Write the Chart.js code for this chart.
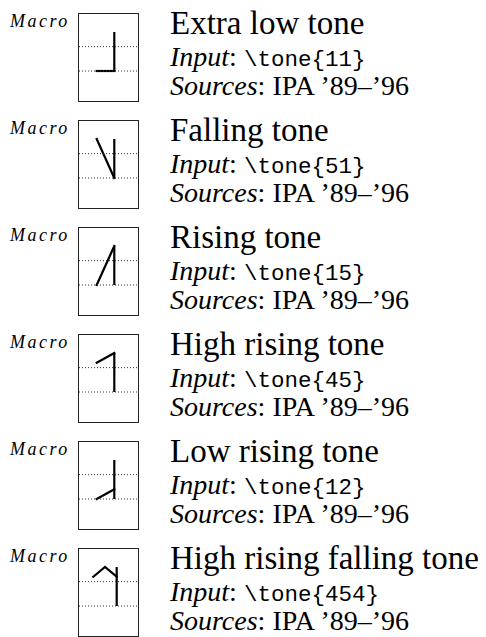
<!DOCTYPE html>
<html>
<head>
<meta charset="utf-8">
<title>Tone letters</title>
<script src="https://cdn.jsdelivr.net/npm/chart.js@4.4.0/dist/chart.umd.min.js"></script>
<style>
    html, body { margin: 0; padding: 0; background: #fff; }
    body { width: 486px; height: 637px; overflow: hidden; position: relative; font-family: 'Liberation Serif', serif; color: #000; }
    i { font-style: italic; }
    .row { position: absolute; left: 0; width: 486px; height: 108px; }
    .macro { position: absolute; left: 10px; top: 12px; font-size: 18px; line-height: 1; font-style: italic; letter-spacing: 2.5px; }
    .box { position: absolute; left: 78px; top: 13px; width: 61px; height: 89px; box-sizing: border-box; border: 1px solid #222; }
    .box canvas { display: block; }
    .name { position: absolute; left: 170px; top: 7.4px; font-size: 33px; line-height: 1; white-space: nowrap; }
    .line { position: absolute; left: 170px; font-size: 28px; line-height: 22px; white-space: nowrap; }
    .line code { font-family: 'Liberation Mono', monospace; font-size: 22.5px; }
</style>
</head>
<body>
<script>
const toneNames = ['Extra low tone', 'Falling tone', 'Rising tone', 'High rising tone', 'Low rising tone', 'High rising falling tone'];
const toneInputs = ['11', '51', '15', '45', '12', '454'];
const toneSources = ['IPA ’89–’96', 'IPA ’89–’96', 'IPA ’89–’96', 'IPA ’89–’96', 'IPA ’89–’96', 'IPA ’89–’96'];
const guideLevels = [1, 3.5];
const staffLevels = [1, 5];

document.addEventListener('DOMContentLoaded', () => {
    const ROW_STEP = 107;

    toneNames.forEach((name, i) => {
        const row = document.createElement('div');
        row.className = 'row';
        row.style.top = Math.round(i * ROW_STEP) + 'px';
        row.innerHTML = `
            <div class="macro">Macro</div>
            <div class="box"><canvas width="59" height="87"></canvas></div>
            <div class="name">${name}</div>
            <div class="line" style="top:45.5px"><i>Input</i>: <code>\\tone{${toneInputs[i]}}</code></div>
            <div class="line" style="top:75px"><i>Sources</i>: ${toneSources[i]}</div>
        `;
        document.body.appendChild(row);

        const levels = toneInputs[i].split('').map(Number);
        drawTone(row.querySelector('canvas'), levels);
    });

    function drawTone(canvas, levels) {
        const n = levels.length;
        // pixel spacing of the contour inside the letter box
        const unit = n > 2 ? 11.7 : 17.6;
        const start = n > 2 ? 14.3 : 17.7;
        const xMin = -start / unit;
        const xMax = (canvas.width - start) / unit;
        const yUnit = 9.75;
        const yMax = 5 + 18 / yUnit;
        const yMin = 1 - (canvas.height - 57) / yUnit;

        const guides = guideLevels.map(g => ({
            data: [{ x: xMin, y: g }, { x: xMax, y: g }],
            borderColor: '#333',
            borderWidth: 1,
            borderDash: [1, 2],
        }));

        new Chart(canvas.getContext('2d'), {
            type: 'scatter',
            data: {
                datasets: [
                    ...guides,
                    {
                        data: staffLevels.map(y => ({ x: n - 1, y: y })),
                        borderColor: '#000',
                        borderWidth: 2.2,
                    },
                    {
                        data: levels.map((y, k) => ({ x: k, y: y })),
                        borderColor: '#000',
                        borderWidth: 2.2,
                        borderJoinStyle: 'miter',
                        borderCapStyle: 'square',
                    },
                ].map(ds => Object.assign({ showLine: true, pointRadius: 0, tension: 0, fill: false }, ds))
            },
            options: {
                responsive: false,
                devicePixelRatio: 1,
                animation: false,
                events: [],
                layout: { padding: 0 },
                scales: {
                    x: { type: 'linear', display: false, min: xMin, max: xMax },
                    y: { type: 'linear', display: false, min: yMin, max: yMax }
                },
                plugins: {
                    legend: { display: false },
                    tooltip: { enabled: false }
                }
            }
        });
    }
});
</script>
</body>
</html>
